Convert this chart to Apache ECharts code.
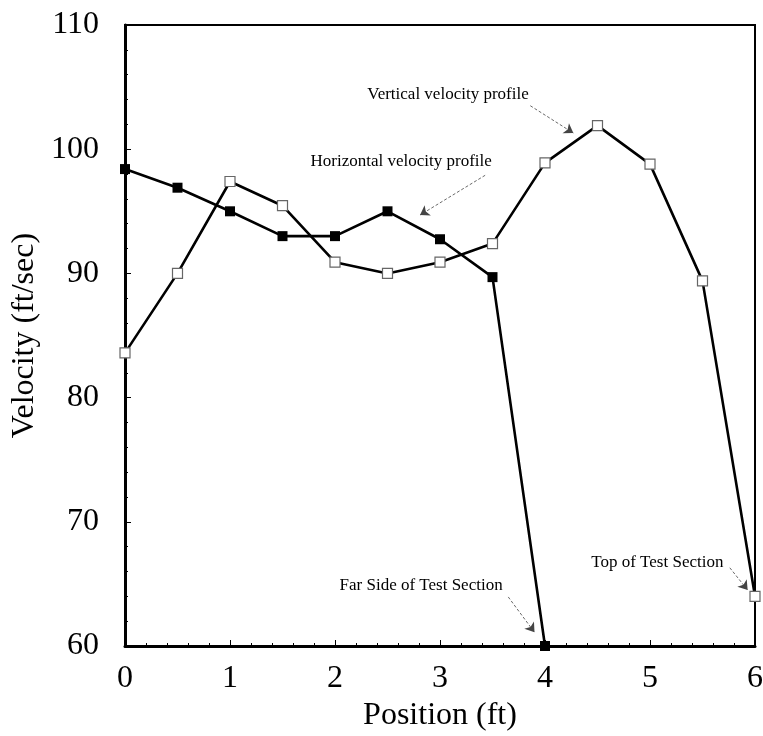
<!DOCTYPE html>
<html>
<head>
<meta charset="utf-8">
<script src="https://cdn.jsdelivr.net/npm/echarts@6/dist/echarts.min.js"></script>
<style>html,body{margin:0;padding:0;background:#fff}#c{width:763px;height:736px}</style>
</head>
<body>
<div id="c"></div>
<script>
// Data
var positions = [0, 0.5, 1, 1.5, 2, 2.5, 3, 3.5, 4, 4.5, 5, 5.5, 6];
var horizontalVelocity = [98.4, 96.9, 95.0, 93.0, 93.0, 95.0, 92.75, 89.7, 60.0];
var verticalVelocity = [83.6, 90.0, 97.4, 95.45, 90.9, 90.0, 90.9, 92.4, 98.9, 101.9, 98.8, 89.4, 64.0];
var yTicks = [60, 70, 80, 90, 100, 110];
var xTicks = [0, 1, 2, 3, 4, 5, 6];

// Annotations: text anchor and arrow (from -> to) in data coordinates
var annotations = [
  { text: 'Vertical velocity profile', at: [3.076, 104.4], from: [3.86, 103.5], to: [4.27, 101.3] },
  { text: 'Horizontal velocity profile', at: [2.63, 99.0], from: [3.43, 97.9], to: [2.81, 94.7] },
  { text: 'Far Side of Test Section', at: [2.82, 64.9], from: [3.65, 63.95], to: [3.9, 61.1] },
  { text: 'Top of Test Section', at: [5.07, 66.76], from: [5.76, 66.3], to: [5.93, 64.5] }
];

function pairs(xs, ys) { return ys.map(function (v, i) { return [xs[i], v]; }); }

var FONT = '"Liberation Serif", "DejaVu Serif", serif';
var chart = echarts.init(document.getElementById('c'), null, { renderer: 'canvas' });

var option = {
  animation: false,
  backgroundColor: '#fff',
  grid: { left: 125, right: 8, top: 25, bottom: 90, containLabel: false, outerBoundsMode: 'none',
          show: true, borderColor: '#000', borderWidth: 2, backgroundColor: 'transparent' },
  xAxis: {
    type: 'value', min: xTicks[0], max: xTicks[xTicks.length - 1], interval: 1,
    name: 'Position (ft)', nameLocation: 'middle', nameGap: 47,
    nameTextStyle: { fontFamily: FONT, fontSize: 32, color: '#000' },
    axisLine: { show: true, lineStyle: { color: '#000', width: 3 } },
    axisTick: { show: true, inside: true, length: 6, lineStyle: { color: '#000', width: 1 } },
    minorTick: { show: true, splitNumber: 5, length: 3, lineStyle: { color: '#000', width: 1 } },
    axisLabel: { fontFamily: FONT, fontSize: 32, color: '#000', margin: 17 },
    splitLine: { show: false }
  },
  yAxis: {
    type: 'value', min: yTicks[0], max: yTicks[yTicks.length - 1], interval: 10,
    name: 'Velocity (ft/sec)', nameLocation: 'middle', nameGap: 74, nameRotate: 90,
    nameTextStyle: { fontFamily: FONT, fontSize: 32, color: '#000' },
    axisLine: { show: true, lineStyle: { color: '#000', width: 3 } },
    axisTick: { show: true, inside: true, length: 6, lineStyle: { color: '#000', width: 1 } },
    minorTick: { show: true, splitNumber: 5, length: 3, lineStyle: { color: '#000', width: 1 } },
    axisLabel: { fontFamily: FONT, fontSize: 32, color: '#000', margin: 26 },
    splitLine: { show: false }
  },
  series: [
    {
      name: 'Vertical', type: 'line', data: pairs(positions, verticalVelocity),
      symbol: 'rect', symbolSize: 10, showAllSymbol: true,
      lineStyle: { color: '#000', width: 2.6 },
      itemStyle: { color: '#fff', borderColor: '#666', borderWidth: 1.2 },
      z: 3,
      markLine: {
        silent: true, symbol: ['none', 'arrow'], symbolSize: 9,
        lineStyle: { color: '#444', width: 0.8, type: [3, 2] },
        itemStyle: { color: '#222' },
        label: { show: false },
        data: annotations.map(function (a) { return [{ coord: a.from }, { coord: a.to }]; })
      },
      markPoint: {
        silent: true, symbol: 'circle', symbolSize: 0,
        label: { show: true, position: 'inside', fontFamily: FONT, fontSize: 17, color: '#000' },
        data: annotations.map(function (a) { return { coord: a.at, value: a.text, label: { formatter: a.text } }; })
      }
    },
    {
      name: 'Horizontal', type: 'line', data: pairs(positions, horizontalVelocity),
      symbol: 'rect', symbolSize: 10, showAllSymbol: true,
      lineStyle: { color: '#000', width: 2.6 },
      itemStyle: { color: '#000', borderColor: '#000', borderWidth: 0 },
      z: 4
    }
  ]
};
chart.setOption(option);
</script>
</body>
</html>
